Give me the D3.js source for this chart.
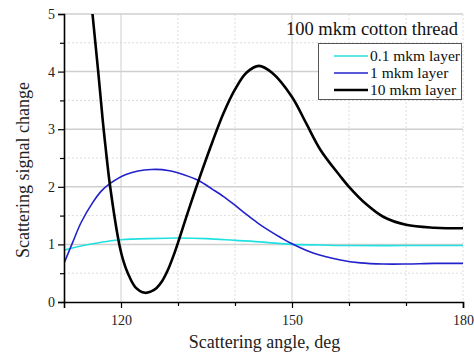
<!DOCTYPE html>
<html>
<head>
<meta charset="utf-8">
<script src="https://cdnjs.cloudflare.com/ajax/libs/d3/7.8.5/d3.min.js"></script>
<style>
  body { margin: 0; background: #fff; }
  svg { display: block; }
  svg text { font-family: "Liberation Serif", "Times New Roman", serif; }
</style>
</head>
<body>
<svg id="chart" width="474" height="355"></svg>
<script>
// values (angle in deg, signal change)
var cyanAngle = [110, 112, 115, 118, 120, 125, 130, 135, 140, 145, 150, 155, 160, 170, 180];
var cyanValue = [0.90, 0.95, 1.01, 1.06, 1.08, 1.10, 1.11, 1.10, 1.07, 1.04, 1.00, 0.99, 0.98, 0.98, 0.98];

var blueAngle = [110, 111.5, 113, 115, 116.5, 118.1, 121, 125.3, 128.5, 131, 133.6, 136, 138, 140, 142, 144, 146, 148, 150, 153.7, 158.5, 162, 166, 170, 175, 180];
var blueValue = [0.67, 1.03, 1.38, 1.72, 1.92, 2.06, 2.22, 2.30, 2.28, 2.21, 2.11, 1.96, 1.83, 1.68, 1.52, 1.37, 1.24, 1.12, 1.01, 0.85, 0.73, 0.68, 0.66, 0.66, 0.67, 0.67];

var blackAngle = [113.8, 115, 116, 116.8, 117.3, 118.1, 119.7, 120.4, 121.2, 122.5, 124.2, 125.2, 126.2, 127.2, 128.2, 129.2, 130.2, 132, 134, 136, 138, 140, 142, 144.2, 146.5, 150, 152.5, 155, 158.5, 160, 163, 166, 170, 175, 180];
var blackValue = [6.3, 5.0, 4.0, 3.15, 2.68, 2.0, 1.0, 0.72, 0.5, 0.26, 0.16, 0.18, 0.24, 0.36, 0.55, 0.80, 1.09, 1.64, 2.22, 2.77, 3.28, 3.69, 3.98, 4.10, 3.98, 3.56, 3.1, 2.64, 2.18, 2.0, 1.7, 1.48, 1.34, 1.29, 1.28];

var xMajor = [120, 150, 180];
var xMinor = [130, 140, 160, 170];
var yMajor = [0, 1, 2, 3, 4, 5];
var yMinor = [0.5, 1.5, 2.5, 3.5, 4.5];

var seriesNames = ["0.1 mkm layer", "1 mkm layer", "10 mkm layer"];
var seriesColors = ["#22e0e0", "#2222cc", "#000000"];
var seriesWidths = [1.6, 1.6, 2.6];

var svg = d3.select("#chart");
// plot box (note: "top" is reserved on window, so px* names)
var pxL = 64, pxR = 463, pxT = 14, pxB = 302;

var x = d3.scaleLinear().domain([110, 180]).range([pxL, pxR]);
var y = d3.scaleLinear().domain([0, 5]).range([pxB, pxT]);

// grid
var grid = svg.append("g");
grid.selectAll(".gy").data(yMajor.slice(1)).enter().append("line")
  .attr("x1", pxL).attr("x2", pxR)
  .attr("y1", d => y(d)).attr("y2", d => y(d))
  .attr("stroke", "#cfcfcf").attr("stroke-width", 1.5);
grid.selectAll(".gym").data(yMinor).enter().append("line")
  .attr("x1", pxL).attr("x2", pxR)
  .attr("y1", d => y(d)).attr("y2", d => y(d))
  .attr("stroke", "#dcdcdc").attr("stroke-width", 1).attr("stroke-dasharray", "2,2");
grid.selectAll(".gx").data(xMajor).enter().append("line")
  .attr("x1", d => x(d)).attr("x2", d => x(d))
  .attr("y1", pxT).attr("y2", pxB)
  .attr("stroke", d => d == 180 ? "#dcdcdc" : "#cfcfcf").attr("stroke-width", 1)
  .attr("stroke-dasharray", d => d == 180 ? "2,2" : null);
grid.selectAll(".gxm").data(xMinor).enter().append("line")
  .attr("x1", d => x(d)).attr("x2", d => x(d))
  .attr("y1", pxT).attr("y2", pxB)
  .attr("stroke", "#dcdcdc").attr("stroke-width", 1).attr("stroke-dasharray", "2,2");

// curves
svg.append("clipPath").attr("id", "clip").append("rect")
  .attr("x", pxL).attr("y", pxT).attr("width", pxR - pxL).attr("height", pxB - pxT);

var line = d3.line().x(d => x(d[0])).y(d => y(d[1])).curve(d3.curveCatmullRom.alpha(0.5));
var series = [
  d3.zip(cyanAngle, cyanValue),
  d3.zip(blueAngle, blueValue),
  d3.zip(blackAngle, blackValue)
];
svg.append("g").attr("clip-path", "url(#clip)")
  .selectAll("path").data(series).enter().append("path")
  .attr("d", line)
  .attr("fill", "none")
  .attr("stroke", (d, i) => seriesColors[i])
  .attr("stroke-width", (d, i) => seriesWidths[i])
  .attr("stroke-linejoin", "round");

// axes
svg.append("g").attr("transform", "translate(0," + pxB + ")")
  .call(d3.axisBottom(x).tickValues(xMajor).tickSize(6).tickPadding(7).tickFormat(d3.format("d")));
svg.append("g").attr("transform", "translate(0," + pxB + ")")
  .call(d3.axisBottom(x).tickValues(xMinor).tickSize(4).tickFormat(""))
  .select(".domain").remove();
svg.append("g").attr("transform", "translate(" + pxL + ",0)")
  .call(d3.axisLeft(y).tickValues(yMajor).tickSize(6).tickPadding(3).tickFormat(d3.format("d")));
svg.append("g").attr("transform", "translate(" + pxL + ",0)")
  .call(d3.axisLeft(y).tickValues(yMinor).tickSize(4).tickFormat(""))
  .select(".domain").remove();

svg.selectAll(".domain").attr("stroke", "#000").attr("stroke-width", 1.6);
svg.selectAll(".tick line").attr("stroke", "#000").attr("stroke-width", 1.2);
svg.selectAll(".tick text").attr("font-size", 14).attr("fill", "#222");

// axis titles
svg.append("text").attr("x", (pxL + pxR) / 2 + 1).attr("y", 348)
  .attr("text-anchor", "middle").attr("font-size", 18).attr("fill", "#222")
  .text("Scattering angle, deg");
svg.append("text").attr("transform", "translate(29,170) rotate(-90)")
  .attr("text-anchor", "middle").attr("font-size", 18).attr("fill", "#222")
  .text("Scattering signal change");

// title
svg.append("text").attr("x", 458).attr("y", 35).attr("text-anchor", "end")
  .attr("font-size", 18.5).attr("fill", "#111").text("100 mkm cotton thread");

// legend
var lg = svg.append("g");
lg.append("rect").attr("x", 318.5).attr("y", 43.5).attr("width", 143).attr("height", 56)
  .attr("fill", "#fff").attr("stroke", "#555").attr("stroke-width", 1);
seriesNames.forEach(function(n, i) {
  var yy = 56 + i * 17;
  lg.append("line").attr("x1", 334).attr("x2", 368).attr("y1", yy).attr("y2", yy)
    .attr("stroke", seriesColors[i]).attr("stroke-width", seriesWidths[i]);
  lg.append("text").attr("x", 370).attr("y", yy + 5).attr("font-size", 15.5).attr("fill", "#111").text(n);
});
</script>
</body>
</html>
